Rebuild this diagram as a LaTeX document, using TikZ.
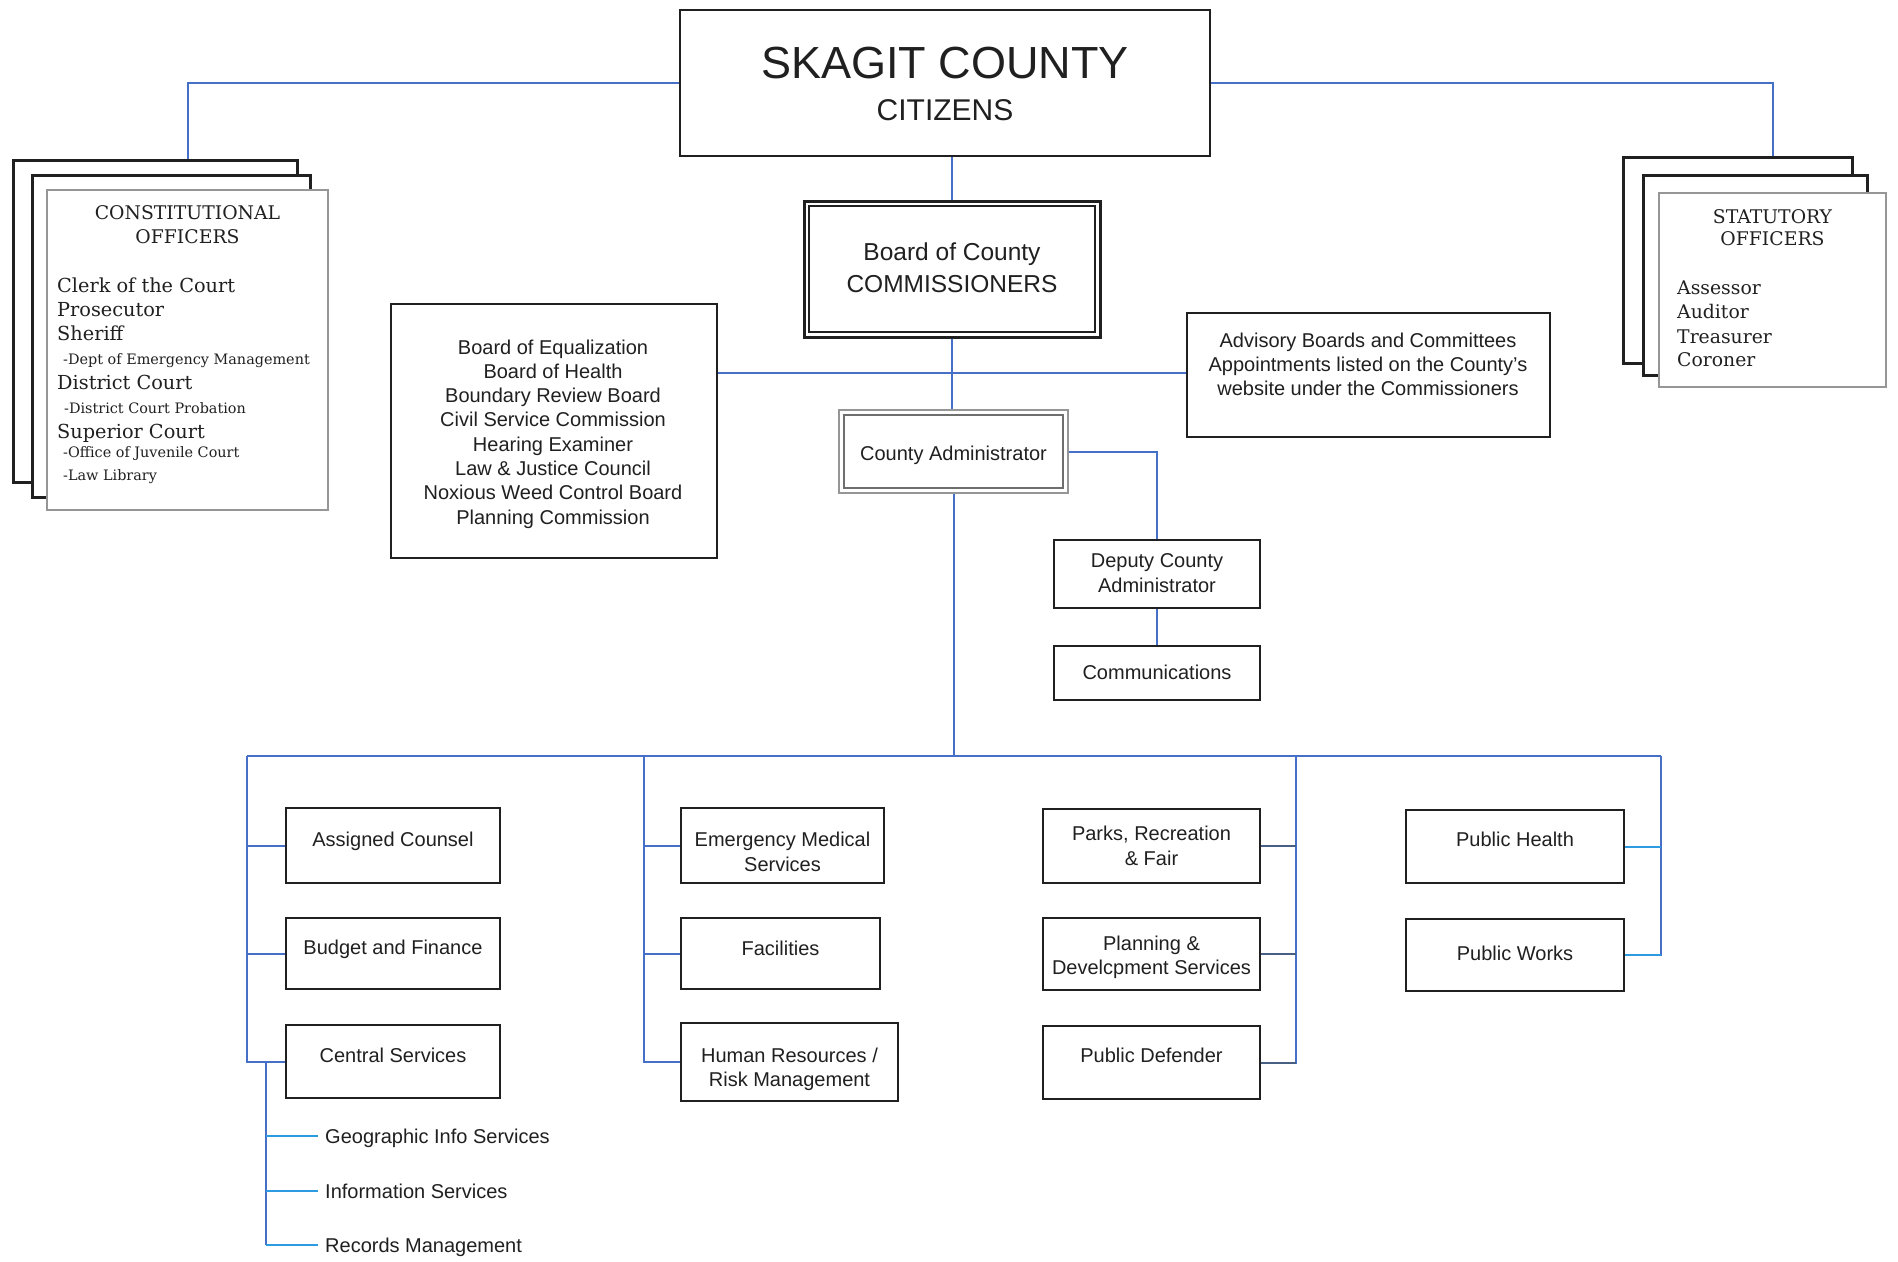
\documentclass[tikz,border=0pt]{standalone}
\usepackage{fontspec}
\setmainfont{Liberation Sans}
\newfontfamily\srf{DejaVu Serif}
\usetikzlibrary{fit}
\definecolor{lnblue}{RGB}{70,112,200}
\definecolor{lncyan}{RGB}{45,155,225}
\definecolor{lnslate}{RGB}{70,95,130}
\definecolor{ink}{RGB}{32,32,32}
\definecolor{gr}{RGB}{150,150,150}
\definecolor{grd}{RGB}{110,110,110}
\begin{document}
\begin{tikzpicture}[x=1pt,y=-1pt,
  ln/.style={draw=lnblue,line width=2pt},
  bx/.style={draw=ink,line width=2.5pt,inner sep=0pt,fill=white},
  stk/.style={draw=ink,line width=3pt,inner sep=0pt,fill=white},
  stkf/.style={draw=gr,line width=1.6pt,inner sep=0pt,fill=white},
  tx/.style={anchor=base,inner sep=0pt,text=ink,font=\fontsize{20}{24}\selectfont},
  stx/.style={anchor=base,inner sep=0pt,text=ink,font=\srf\fontsize{18.8}{22}\selectfont},
  sitem/.style={anchor=base west,inner sep=0pt,text=ink,font=\srf\fontsize{19.3}{22}\selectfont},
  ssub/.style={anchor=base west,inner sep=0pt,text=ink,font=\srf\fontsize{14.4}{17}\selectfont},
  subtx/.style={anchor=west,inner sep=0pt,text height=14pt,text depth=0pt,text=ink,font=\fontsize{20}{24}\selectfont}]
\useasboundingbox[fill=white] (0,0) rectangle (1898,1261);

% ---------- top box ----------
\node[bx,fit={(680,10) (1210,156)}] (top) {};
\node[tx,font=\fontsize{45}{50}\selectfont] (t1) at (945,78) {SKAGIT COUNTY};
\node[tx,font=\fontsize{30}{34}\selectfont] (t2) at (945,120) {CITIZENS};

% ---------- constitutional officers ----------
\node[stk,fit={(13,160) (297,482)}] (c1) {};
\node[stk,fit={(32,175) (310,497)}] (c2) {};
\node[stkf,fit={(47,190) (328,510)}] (c3) {};
\node[stx] (ch1) at (187.5,219) {CONSTITUTIONAL};
\node[stx] (ch2) at (187.5,243) {OFFICERS};
\node[sitem] (ci1) at (57,292) {Clerk of the Court};
\node[sitem] (ci2) at (57,316) {Prosecutor};
\node[sitem] (ci3) at (57,340) {Sheriff};
\node[ssub] (ci4) at (63,364) {-Dept of Emergency Management};
\node[sitem] (ci5) at (57,389) {District Court};
\node[ssub] (ci6) at (64,413) {-District Court Probation};
\node[sitem] (ci7) at (57,438) {Superior Court};
\node[ssub] (ci8) at (63,457) {-Office of Juvenile Court};
\node[ssub] (ci9) at (63,480) {-Law Library};

% ---------- statutory officers ----------
\node[stk,fit={(1623,157) (1852,363)}] (s1) {};
\node[stk,fit={(1643,175) (1867,375)}] (s2) {};
\node[stkf,fit={(1659,193) (1886,387)}] (s3) {};
\node[stx] (sh1) at (1772.5,223) {STATUTORY};
\node[stx] (sh2) at (1772.5,245) {OFFICERS};
\node[sitem,font=\srf\fontsize{18.8}{22}\selectfont] (si1) at (1677,294) {Assessor};
\node[sitem,font=\srf\fontsize{18.8}{22}\selectfont] (si2) at (1677,318) {Auditor};
\node[sitem,font=\srf\fontsize{18.8}{22}\selectfont] (si3) at (1677,343) {Treasurer};
\node[sitem,font=\srf\fontsize{18.8}{22}\selectfont] (si4) at (1677,366) {Coroner};

% ---------- board ----------
\node[bx,line width=3pt,fit={(804,201) (1100,337)}] (boc) {};
\node[draw=ink,line width=2pt,inner sep=0pt,fit={(809,206) (1095,332)}] (bci) {};
\node[tx,font=\fontsize{24.5}{28}\selectfont] (b1) at (952,260) {Board of County};
\node[tx,font=\fontsize{24.5}{28}\selectfont] (b2) at (952,292) {COMMISSIONERS};

% ---------- boards list ----------
\node[bx,fit={(391,304) (717,558)}] (lst) {};
\node[tx] (l1) at (553,354) {Board of Equalization};
\node[tx] (l2) at (553,378.3) {Board of Health};
\node[tx] (l3) at (553,402.6) {Boundary Review Board};
\node[tx] (l4) at (553,426.9) {Civil Service Commission};
\node[tx] (l5) at (553,451.2) {Hearing Examiner};
\node[tx] (l6) at (553,475.5) {Law \& Justice Council};
\node[tx] (l7) at (553,499.8) {Noxious Weed Control Board};
\node[tx] (l8) at (553,524.1) {Planning Commission};

% ---------- advisory ----------
\node[bx,fit={(1187,313) (1550,437)}] (adv) {};
\node[tx] (a1) at (1368,347) {Advisory Boards and Committees};
\node[tx] (a2) at (1368,371) {Appointments listed on the County’s};
\node[tx] (a3) at (1368,395) {website under the Commissioners};

% ---------- county administrator ----------
\node[draw=gr,line width=2.5pt,inner sep=0pt,fill=white,fit={(839,410) (1068,493)}] (cao) {};
\node[draw=grd,line width=1.5pt,inner sep=0pt,fit={(844,415) (1063,488)}] (cai) {};
\node[tx] (ca) at (953.5,460) {County Administrator};

% ---------- deputy / communications ----------
\node[bx,fit={(1054,540) (1260,608)}] (dep) {};
\node[tx] (d1) at (1157,567) {Deputy County};
\node[tx] (d2) at (1157,592) {Administrator};
\node[bx,fit={(1054,646) (1260,700)}] (com) {};
\node[tx] (cm) at (1157,679) {Communications};

% ---------- departments ----------
\node[bx,fit={(286,808) (500,883)}] (ac) {};
\node[tx] (acT) at (393,846) {Assigned Counsel};
\node[bx,fit={(286,918) (500,989)}] (bf) {};
\node[tx] (bfT) at (393,954) {Budget and Finance};
\node[bx,fit={(286,1025) (500,1098)}] (cs) {};
\node[tx] (csT) at (393,1062) {Central Services};

\node[bx,fit={(681,808) (884,883)}] (ems) {};
\node[tx] (emsT1) at (782.5,846) {Emergency Medical};
\node[tx] (emsT2) at (782.5,871) {Services};
\node[bx,fit={(681,918) (880,989)}] (fac) {};
\node[tx] (facT) at (780.5,955) {Facilities};
\node[bx,fit={(681,1023) (898,1101)}] (hr) {};
\node[tx] (hrT1) at (789.5,1062) {Human Resources /};
\node[tx] (hrT2) at (789.5,1086) {Risk Management};

\node[bx,fit={(1043,809) (1260,883)}] (pk) {};
\node[tx] (pkT1) at (1151.5,840) {Parks, Recreation};
\node[tx] (pkT2) at (1151.5,865) {\& Fair};
\node[bx,fit={(1043,918) (1260,990)}] (pl) {};
\node[tx] (plT1) at (1151.5,950) {Planning \&};
\node[tx] (plT2) at (1151.5,974) {Develcpment Services};
\node[bx,fit={(1043,1026) (1260,1099)}] (pd) {};
\node[tx] (pdT) at (1151.5,1062) {Public Defender};

\node[bx,fit={(1406,810) (1624,883)}] (ph) {};
\node[tx] (phT) at (1515,846) {Public Health};
\node[bx,fit={(1406,919) (1624,991)}] (pw) {};
\node[tx] (pwT) at (1515,960) {Public Works};

% ---------- central services sub items ----------
\node[subtx] (geo) at (325,1136) {Geographic Info Services};
\node[subtx] (inf) at (325,1191) {Information Services};
\node[subtx] (rec) at (325,1245) {Records Management};

% ---------- connectors ----------
\draw[ln] (top.west) -| (c3.north |- c1.north);
\draw[ln] (top.east) -| (s3.north |- s1.north);
\draw[ln] (top.south -| boc.north) -- (boc.north);
\draw[ln] (boc.south) -- (boc.south |- cao.north);
\coordinate (hj) at (952,373);
\draw[ln] (lst.east |- hj) -- (adv.west |- hj);
\draw[ln] (cao.east) -| (dep.north);
\draw[ln] (dep.south) -- (com.north);

\coordinate (bus1) at (247,756);
\coordinate (bus2) at (644,756);
\coordinate (bus3) at (1296,756);
\coordinate (bus4) at (1661,756);
\draw[ln] (cao.south) -- (cao.south |- bus1);
\draw[ln] (bus1) -- (bus4);

\draw[ln] (bus1) |- (cs.west);
\draw[ln] (bus1 |- ac.west) -- (ac.west);
\draw[ln] (bus1 |- bf.west) -- (bf.west);

\draw[ln] (bus2) |- (hr.west);
\draw[ln] (bus2 |- ems.west) -- (ems.west);
\draw[ln] (bus2 |- fac.west) -- (fac.west);

\draw[ln] (bus3) |- (pd.east);
\draw[ln,draw=lnslate,line width=1.2pt] (pk.east) -- (pk.east -| bus3);
\draw[ln,draw=lnslate] (pl.east) -- (pl.east -| bus3);
\draw[ln,draw=lnslate] (pd.east) -- (pd.east -| bus3);

\draw[ln] (bus4) |- (pw.east);
\draw[ln,draw=lncyan] (ph.east) -- (ph.east -| bus4);
\draw[ln,draw=lncyan] (pw.east) -- (pw.east -| bus4);

\coordinate (csj) at (266,1062);
\draw[ln] (csj) -- (csj |- rec.west);
\draw[ln,draw=lncyan] (csj |- geo.west) -- ([xshift=-7pt]geo.west);
\draw[ln,draw=lncyan] (csj |- inf.west) -- ([xshift=-7pt]inf.west);
\draw[ln,draw=lncyan] (csj |- rec.west) -- ([xshift=-7pt]rec.west);
\end{tikzpicture}
\end{document}
